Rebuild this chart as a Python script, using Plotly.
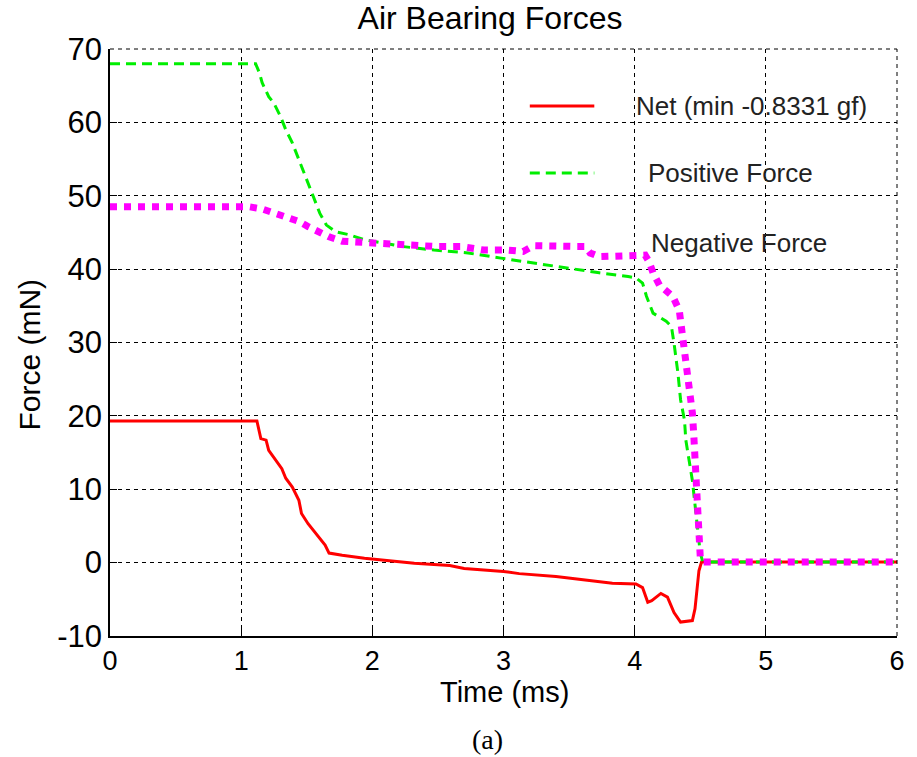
import plotly.graph_objects as go

# ---- data ----
t_net = [0, 1.12, 1.15, 1.19, 1.21, 1.26, 1.31, 1.34, 1.39, 1.44, 1.46, 1.51, 1.59, 1.64, 1.67,
         1.77, 1.94, 2.20, 2.32, 2.59, 2.70, 3.00, 3.12, 3.40, 3.63, 3.83, 4.01, 4.06, 4.10,
         4.13, 4.20, 4.25, 4.30, 4.35, 4.44, 4.46, 4.49, 4.51, 6.0]
f_net = [19.3, 19.3, 16.9, 16.7, 15.3, 14.0, 12.8, 11.5, 10.3, 8.5, 6.7, 5.3, 3.5, 2.4, 1.3,
         1.0, 0.6, 0.1, -0.1, -0.4, -0.8, -1.2, -1.5, -1.9, -2.4, -2.8, -2.9, -3.4, -5.4,
         -5.2, -4.2, -4.7, -6.8, -8.1, -7.9, -6.3, -1.1, 0.1, 0.1]

t_pos = [0, 1.11, 1.14, 1.16, 1.21, 1.25, 1.30, 1.34, 1.39, 1.44, 1.49, 1.55, 1.60, 1.65, 1.72,
         1.82, 1.94, 2.07, 2.22, 2.47, 2.73, 2.98, 3.23, 3.48, 3.73, 3.95, 4.01, 4.06, 4.09,
         4.14, 4.24, 4.28, 4.30, 4.33, 4.35, 4.38, 4.39, 4.44, 4.47, 4.50, 4.52, 6.0]
f_pos = [68.0, 68.0, 66.7, 65.4, 63.5, 62.6, 60.8, 59.0, 57.2, 54.9, 52.6, 49.9, 47.6, 46.0, 45.1,
         44.7, 44.0, 43.6, 43.1, 42.6, 42.2, 41.5, 40.8, 40.1, 39.5, 39.0, 38.8, 38.1, 36.3,
         34.0, 32.9, 32.2, 29.9, 25.8, 22.2, 19.4, 16.7, 11.2, 5.8, 1.3, 0.1, 0.1]

t_neg = [0, 1.06, 1.16, 1.26, 1.36, 1.44, 1.51, 1.59, 1.67, 1.77, 1.87, 1.97, 2.07, 2.25, 2.47,
         2.67, 2.85, 3.03, 3.15, 3.23, 3.33, 3.43, 3.53, 3.62, 3.66, 3.73, 3.94, 4.01, 4.08,
         4.11, 4.14, 4.19, 4.29, 4.34, 4.35, 4.38, 4.40, 4.41, 4.44, 4.45, 4.49, 4.50, 4.52, 6.0]
f_neg = [48.5, 48.5, 48.2, 47.6, 47.2, 46.5, 45.8, 45.0, 44.4, 43.8, 43.8, 43.6, 43.5, 43.3, 43.1,
         43.1, 42.6, 42.6, 42.4, 43.2, 43.1, 43.1, 43.1, 43.1, 42.2, 41.7, 41.7, 41.7, 41.9,
         41.0, 39.5, 37.8, 36.3, 34.4, 33.1, 29.4, 25.8, 24.0, 20.4, 17.6, 2.4, 0.8, 0.1, 0.1]

x_ticks = [0, 1, 2, 3, 4, 5, 6]
y_ticks = [-10, 0, 10, 20, 30, 40, 50, 60, 70]
legend_labels = ["Net (min -0.8331 gf)", "Positive Force", "Negative Force"]

# ---- layout helpers ----
W, H = 917, 757
L, R, T, B = 110, 903, 49, 636


def px(x):
    return (x - L) / (R - L)


def py(y):
    return (B - y) / (B - T)


FONT = "Liberation Sans, Arial, sans-serif"

fig = go.Figure()
fig.add_trace(go.Scatter(x=t_net, y=f_net, mode="lines", name=legend_labels[0],
                         line=dict(color="#ff0000", width=3)))
fig.add_trace(go.Scatter(x=t_pos, y=f_pos, mode="lines", name=legend_labels[1],
                         line=dict(color="#00ee00", width=3, dash="10px,6px")))
fig.add_trace(go.Scatter(x=t_neg, y=f_neg, mode="lines", name=legend_labels[2],
                         line=dict(color="#ff00ff", width=7, dash="7px,7px")))

axis_common = dict(
    showgrid=True, gridcolor="black", gridwidth=1, griddash="4px,4px",
    zeroline=False, showline=True, linecolor="black", linewidth=1.5,
    ticks="inside", ticklen=7, tickcolor="black", tickwidth=1,
)
fig.update_xaxes(range=[0, 6], tickvals=x_ticks, ticktext=[str(v) for v in x_ticks],
                 tickfont=dict(family=FONT, size=27, color="black"),
                 **axis_common)
fig.update_yaxes(range=[-10, 70], tickvals=y_ticks, ticktext=[str(v) for v in y_ticks],
                 tickfont=dict(family=FONT, size=31, color="black"),
                 **axis_common)

# axis titles
fig.add_annotation(text="Time (ms)", xref="paper", yref="paper", x=px(508), y=py(692),
                   xanchor="center", yanchor="middle", showarrow=False,
                   font=dict(family=FONT, size=29, color="black"))
fig.add_annotation(text="Force (mN)", xref="paper", yref="paper", x=px(28), y=py(355),
                   xanchor="center", yanchor="middle", showarrow=False, textangle=-90,
                   font=dict(family=FONT, size=30, color="black"))

# top / right dashed frame
fig.add_shape(type="line", xref="paper", yref="paper", x0=0, x1=1, y0=1, y1=1,
              line=dict(color="black", width=1, dash="4px,4px"))
fig.add_shape(type="line", xref="paper", yref="paper", x0=1, x1=1, y0=0, y1=1,
              line=dict(color="black", width=1, dash="4px,4px"))

# custom legend
leg_rows = [(106, 638), (173, 650), (243, 653)]
styles = [dict(color="#ff0000", width=3), dict(color="#00ee00", width=3, dash="10px,6px")]
for i, (yy, xt) in enumerate(leg_rows):
    if i < 2:
        fig.add_shape(type="line", xref="paper", yref="paper", x0=px(533), x1=px(598),
                      y0=py(yy), y1=py(yy), line=styles[i])
    fig.add_annotation(text=legend_labels[i], xref="paper", yref="paper", x=px(xt), y=py(yy),
                       xanchor="left", yanchor="middle", showarrow=False,
                       font=dict(family=FONT, size=26, color="#222222"))

fig.add_annotation(text="(a)", xref="paper", yref="paper", x=px(490), y=py(739),
                   xanchor="center", yanchor="middle", showarrow=False,
                   font=dict(family="Liberation Serif, Times New Roman, serif", size=28, color="black"))

fig.update_layout(
    width=W, height=H,
    margin=dict(l=L, r=W - R, t=T, b=H - B),
    paper_bgcolor="white", plot_bgcolor="white",
    showlegend=False,
    title=dict(text="Air Bearing Forces", x=px(493), xanchor="center", xref="paper",
               y=1 - 18 / H, yanchor="middle", yref="container",
               font=dict(family=FONT, size=32, color="black")),
)

fig.write_html("out.html")
